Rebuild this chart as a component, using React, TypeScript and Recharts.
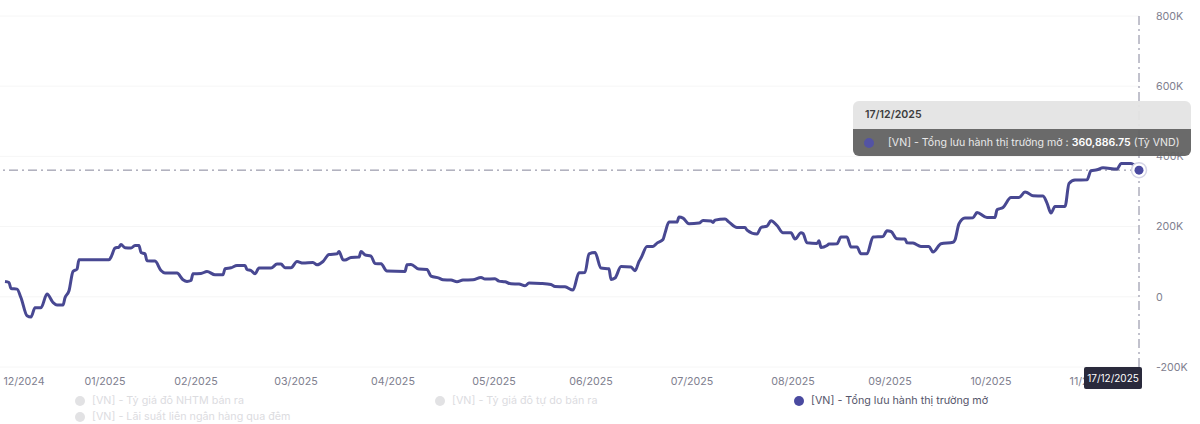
import React from "react";
import { LineChart, Line, XAxis, YAxis, CartesianGrid, Tooltip, ReferenceLine } from "recharts";

const timeIndex = [1,3,4,7,9,12,14,16,19,22,25,27,30,31,33,35,37,38,53,54,56,58,59,61,64,66,68,69,71,72,76,79,81,87,90,92,94,95,99,102,106,110,111,114,117,121,122,124,126,128,134,137,139,141,144,147,150,155,157,160,163,167,168,170,171,174,178,179,181,184,186,189,192,201,202,204,208,212,214,218,220,224,227,230,235,239,241,246,248,251,254,258,261,263,269,274,276,281,285,288,291,293,296,299,303,304,306,309,314,316,318,319,322,325,327,330,331,333,337,338,340,343,348,350,354,355,356,361,363,367,371,372,377,379,382,384,387,390,394,396,399,400,402,407,408,409,412,413,417,419,422,424,427,429,432,435,440,442,444,447,451,452,455,459,463,465,469,475,476,478,481,485,487,492,496,497,500,504,508,511,512,515,520,522,524,526,531,533,536,542,544,547,550,557,559,564,568];
const liquidity = [43.6,40.7,23.6,21.9,-2.8,-54.1,-57.8,-31.3,-31.3,7.7,-16.2,-23.6,-23.6,-2.8,17.1,72.1,78.9,105.4,105.4,113.1,138.7,141.6,149,139.6,138.7,146.2,146.2,126.2,122.5,102.6,101.7,74.9,67.5,67.5,48.4,43.6,46.4,65.5,66.4,72.1,62.7,62.7,79.8,82.6,89.2,89.2,77.8,74.9,65.5,81.8,81.8,93.2,93.2,82.6,82.6,100.6,96,97.7,91.2,100.6,120.5,122.5,129.1,105.4,104.6,112,113.1,129.1,119.7,116,94.9,94,73.2,72.1,91.2,92,78.9,77.8,59,53.3,48.4,47.6,42.7,47.6,48.4,55,50.4,51.3,44.7,42.7,37,36.2,31.3,39,37.9,35,29.3,28.5,19.1,68.4,69.2,122.5,126.2,81.8,79.8,49.3,53.3,86.3,84.6,74.1,100.6,110.3,143.3,143.3,153,163.2,181.5,212.8,212.8,227.1,224.2,208,210,217.4,215.7,211.7,218.5,221.4,212.8,197.4,197.4,190,178.6,197.4,201.4,216.5,203.1,182.3,182.3,164.4,182.3,180.3,153.8,151.9,159.5,140.5,146.2,150.1,151,170.1,170.1,141.6,141.6,122.5,122.5,170.1,171.8,188,186,165.2,164.4,153.8,153,143.3,143.3,127.4,151,155.3,162.4,208,224.2,225.1,240.2,225.9,225.9,247.9,254.4,282.9,282.9,298.3,297.2,287.7,286.9,267,238.5,257.3,257.3,322.8,332.5,333.3,359,361.8,367.5,363.8,379.8,379.8,360.88675];

const monthTicks = [10.5,51,96.5,146.5,195,245.5,294,344.5,395,443.5,494,543];
const monthLabels = ["12/2024","01/2025","02/2025","03/2025","04/2025","05/2025","06/2025","07/2025","08/2025","09/2025","10/2025","11/2025"];
const valueTicks = [-200,0,200,400,600,800];
const seriesNames = ["[VN] - Tỷ giá đô NHTM bán ra","[VN] - Tỷ giá đô tự do bán ra","[VN] - Tổng lưu hành thị trường mở","[VN] - Lãi suất liên ngân hàng qua đêm"];
const selectedDate = "17/12/2025";
const selectedText = "360,886.75";
const unit = "(Tỷ VND)";

const data = timeIndex.map((t, i) => ({ t, v: liquidity[i] }));
const last = data[data.length - 1];

const FONT = "Inter, sans-serif";
const LINE = "#484892";
const DOT = "#4a4aa0";
const DASH = "9 4 2 4";

function TipBox() {
  return (
    <div style={{ width: 338, height: 55, borderRadius: 6, overflow: "hidden", fontFamily: FONT, fontSize: 10.6, whiteSpace: "nowrap", opacity: 0.95 }}>
      <div style={{ height: 28, background: "#e4e4e4", color: "#333", fontWeight: 600, lineHeight: "28px", paddingLeft: 12 }}>{selectedDate}</div>
      <div style={{ height: 27, background: "#636363", color: "#e8e8e8", lineHeight: "27px", position: "relative", paddingLeft: 35 }}>
        <span style={{ position: "absolute", left: 11, top: 8.5, width: 10, height: 10, borderRadius: 5, background: DOT }} />
        {seriesNames[2]} : <b style={{ color: "#fff", fontWeight: 600 }}>{selectedText}</b> {unit}
      </div>
    </div>
  );
}

function LegendItem({ name, left, top, active }: { name: string; left: number; top: number; active: boolean }) {
  return (
    <div style={{ position: "absolute", left, top, height: 16, lineHeight: "16px", fontFamily: FONT, fontSize: 10.75, color: active ? "#55556a" : "#dcdcdf", whiteSpace: "nowrap" }}>
      <span style={{ position: "absolute", left: 0, top: 3, width: 10, height: 10, borderRadius: 5, background: active ? DOT : "#e2e2e4" }} />
      <span style={{ marginLeft: 17 }}>{name}</span>
    </div>
  );
}

export default function App() {
  return (
    <div style={{ position: "absolute", left: 0, top: 0, width: 1200, height: 424, background: "#fff", overflow: "hidden" }}>
      <LineChart width={1200} height={424} data={data} margin={{ top: 16, right: 0, left: 0, bottom: 34 }}>
        <CartesianGrid vertical={false} stroke="#f6f6f6" />
        <XAxis
          dataKey="t"
          type="number"
          domain={[-1.5, 568]}
          ticks={monthTicks}
          tickFormatter={(v: number) => monthLabels[monthTicks.indexOf(v)]}
          interval={0}
          axisLine={false}
          tickLine={false}
          tickMargin={4}
          height={23}
          tick={{ fontFamily: FONT, fontSize: 10.7, fill: "#80808f" }}
        />
        <YAxis
          orientation="right"
          width={61}
          domain={[-200, 800]}
          ticks={valueTicks}
          tickFormatter={(v: number) => (v === 0 ? "0" : `${v}K`)}
          axisLine={false}
          tickLine={false}
          tickMargin={11}
          tick={{ fontFamily: FONT, fontSize: 10.7, fill: "#80808f", textAnchor: "start" }}
          interval={0}
        />
        <ReferenceLine y={last.v} stroke="#84849a" strokeDasharray={DASH} />
        <ReferenceLine x={last.t} stroke="#84849a" strokeDasharray={DASH} />
        <Tooltip
          defaultIndex={data.length - 1}
          active
          cursor={false}
          position={{ x: 853, y: 101 }}
          content={() => <TipBox />}
          isAnimationActive={false}
          allowEscapeViewBox={{ x: true, y: true }}
          wrapperStyle={{ outline: "none" }}
        />
        <Line
          dataKey="v"
          type="monotone"
          stroke={LINE}
          strokeWidth={3}
          dot={false}
          isAnimationActive={false}
          activeDot={(p: any) => (
            <g>
              <circle cx={p.cx} cy={p.cy} r={7.5} fill="#fff" stroke="#d5d5e6" strokeWidth={1.5} />
              <circle cx={p.cx} cy={p.cy} r={4.5} fill={DOT} />
            </g>
          )}
        />
      </LineChart>
      <div style={{ position: "absolute", left: 1084, top: 367, width: 58, height: 22, background: "#2a2a3c", borderRadius: 2, color: "#fff", fontFamily: FONT, fontSize: 10, lineHeight: "22px", textAlign: "center" }}>{selectedDate}</div>
      <LegendItem name={seriesNames[0]} left={75} top={393} active={false} />
      <LegendItem name={seriesNames[1]} left={435} top={393} active={false} />
      <LegendItem name={seriesNames[2]} left={794} top={393} active />
      <LegendItem name={seriesNames[3]} left={75} top={409} active={false} />
    </div>
  );
}
